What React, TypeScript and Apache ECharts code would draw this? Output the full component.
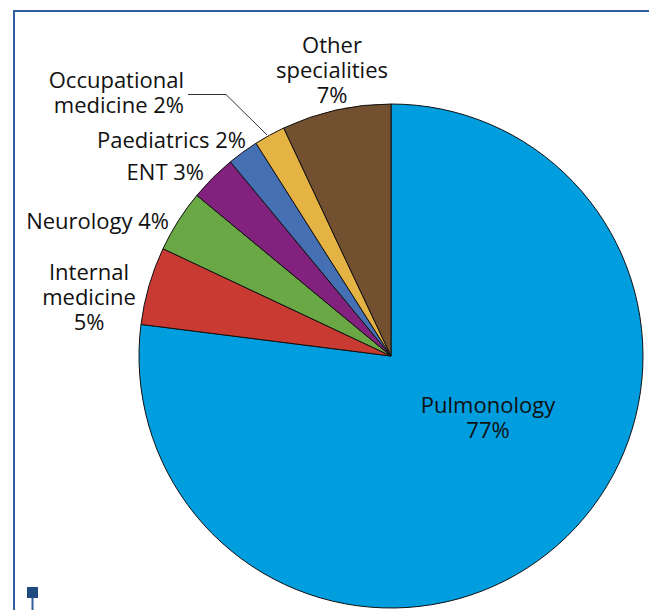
import React, { useEffect, useRef } from "react";
import * as echarts from "echarts";

const categories = [
  "Pulmonology",
  "Internal medicine",
  "Neurology",
  "ENT",
  "Paediatrics",
  "Occupational medicine",
  "Other specialities",
];
const values = [77, 5, 4, 3, 2, 2, 7];
const colors = ["#009ddf", "#c83a32", "#6aa845", "#83217e", "#4570b4", "#e5b244", "#735030"];
// how each label text is broken into lines
const labelTexts = [
  "Pulmonology\n{v}%",
  "Internal\nmedicine\n{v}%",
  "Neurology {v}%",
  "ENT {v}%",
  "Paediatrics {v}%",
  "Occupational\nmedicine {v}%",
  "Other\nspecialities\n{v}%",
];
// label placement (layout only)
const labelPlace = [
  { x: 488, y: 416, align: "center" },
  { x: 89, y: 296, align: "center" },
  { x: 169, y: 220, align: "right" },
  { x: 204, y: 171, align: "right" },
  { x: 246, y: 139, align: "right" },
  { x: 184, y: 91, align: "right" },
  { x: 332, y: 69, align: "center" },
];

export default function App() {
  const ref = useRef<HTMLDivElement>(null);
  useEffect(() => {
    if (!ref.current) return;
    const chart = echarts.init(ref.current, null, { renderer: "svg" });
    const frame = "#2f5e9e";
    chart.setOption({
      animation: false,
      backgroundColor: "#ffffff",
      graphic: [
        { type: "line", shape: { x1: 14, y1: 11, x2: 649, y2: 11 }, style: { stroke: frame, lineWidth: 2 }, silent: true },
        { type: "line", shape: { x1: 14, y1: 10, x2: 14, y2: 610 }, style: { stroke: frame, lineWidth: 2 }, silent: true },
        { type: "rect", shape: { x: 27, y: 587, width: 11, height: 11 }, style: { fill: "#1f4a80" }, silent: true },
        { type: "line", shape: { x1: 32.5, y1: 598, x2: 32.5, y2: 610 }, style: { stroke: "#2f5e9e", lineWidth: 2 }, silent: true },
      ],
      series: [
        {
          type: "pie",
          center: [391, 356],
          radius: 252,
          startAngle: 90,
          clockwise: true,
          silent: true,
          emphasis: { disabled: true },
          itemStyle: { borderColor: "#111111", borderWidth: 1 },
          label: {
            show: true,
            position: "outside",
            overflow: "none",
            fontFamily: "Open Sans",
            fontSize: 22,
            lineHeight: 25,
            color: "#111111",
            formatter: (p: any) => labelTexts[p.dataIndex].replace("{v}", String(p.value)),
          },
          labelLine: { show: false, lineStyle: { color: "#333333", width: 1 } },
          labelLayout: (p: any) => {
            const l = labelPlace[p.dataIndex];
            const out: any = { x: l.x, y: l.y, align: l.align, verticalAlign: "middle", width: 300 };
            if (p.dataIndex === 5) {
              out.labelLinePoints = [
                [267, 135],
                [226, 94.5],
                [188, 94.5],
              ];
            }
            return out;
          },
          data: categories.map((name, i) => ({
            name,
            value: values[i],
            itemStyle: { color: colors[i] },
            label: { align: labelPlace[i].align, overflow: "none" },
            labelLine: { show: i === 5, length: 20, length2: 30 },
          })),
        },
      ],
    });
    return () => chart.dispose();
  }, []);
  return (
    <div
      ref={ref}
      style={{ position: "fixed", left: 0, top: 0, width: 649, height: 610 }}
    />
  );
}
